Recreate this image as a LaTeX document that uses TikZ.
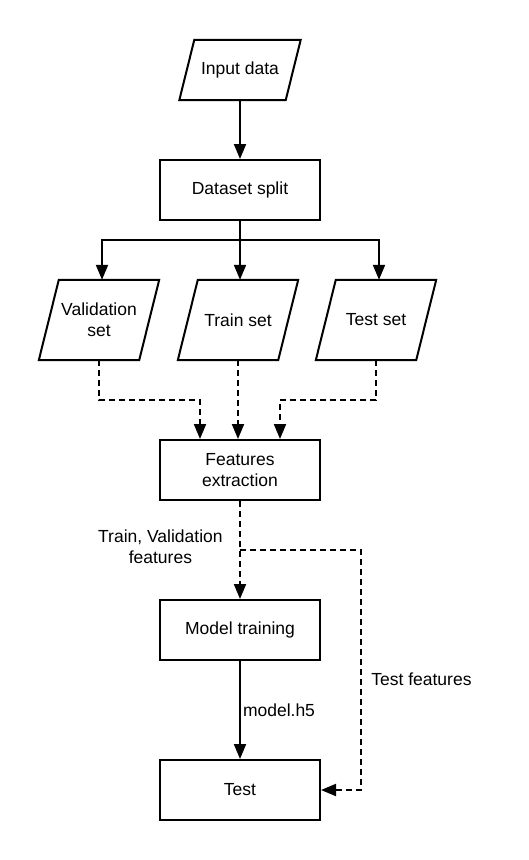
\documentclass[tikz,border=0pt]{standalone}
\usepackage{fontspec}
\setmainfont{Liberation Sans}
\usetikzlibrary{arrows.meta}
\tikzset{
  io/.style={minimum width=100pt, minimum height=80pt, inner sep=0pt, align=center},
  proc/.style={draw, line width=2pt, minimum width=160pt, minimum height=60pt, inner sep=0pt, align=center},
  arr/.style={line width=2pt, -{Triangle[length=15pt,width=12pt]}},
  darr/.style={arr, dash pattern=on 6pt off 4pt}
}
\begin{document}
\begin{tikzpicture}[x=1pt, y=-1pt, font=\fontsize{17.5}{21}\selectfont]
  \useasboundingbox (0,0) rectangle (528,860);
  % input and split
  \node[io, minimum width=106pt, minimum height=60pt] (input) at (240,70) {Input data};
  \node[proc] (split) at (240,190) {Dataset split};
  % the three sets
  \coordinate (fork) at (240,240);
  \node[io] (valid) at (99,320) {Validation\\set};
  \node[io] (train) at (238,320) {Train set};
  \node[io] (test) at (376,320) {Test set};
  % slanted outlines
  \foreach \n/\s in {input/7.5, valid/10, train/10, test/10}
    \draw[line width=2pt, line join=miter] ([xshift=\s pt]\n.north west) -- ([xshift=\s pt]\n.north east)
      -- ([xshift=-\s pt]\n.south east) -- ([xshift=-\s pt]\n.south west) -- cycle;
  \draw[arr] (input) -- (split);
  \draw[line width=2pt] (split) -- (fork);
  \draw[arr] (fork) -| ([xshift=3pt]valid.north);
  \draw[arr] (fork) -| ([xshift=3pt]test.north);
  \draw[arr] (fork) -- ([xshift=2pt]train.north);
  % features
  \node[proc] (feat) at (240,470) {Features\\extraction};
  \draw[darr] (valid.south) -- ++(0,40) -| ([xshift=-40pt]feat.north);
  \draw[darr] (train.south) -- ([xshift=-2pt]feat.north);
  \draw[darr] (test.south) -- ++(0,40) -| ([xshift=40pt]feat.north);
  % training and test
  \node[proc] (model) at (240,630) {Model training};
  \node[proc] (testbox) at (240,790) {Test};
  \coordinate (tf) at (240,550);
  \draw[darr] (feat) -- node[left, align=center, pos=0.47, xshift=-13pt] {Train, Validation\\features} (model);
  \draw[darr] (tf) -- ++(121,0) |- node[right, pos=0.27, xshift=6pt] {Test features} (testbox.east);
  \draw[arr] (model) -- node[right, inner sep=2pt] {model.h5} (testbox);
\end{tikzpicture}
\end{document}
